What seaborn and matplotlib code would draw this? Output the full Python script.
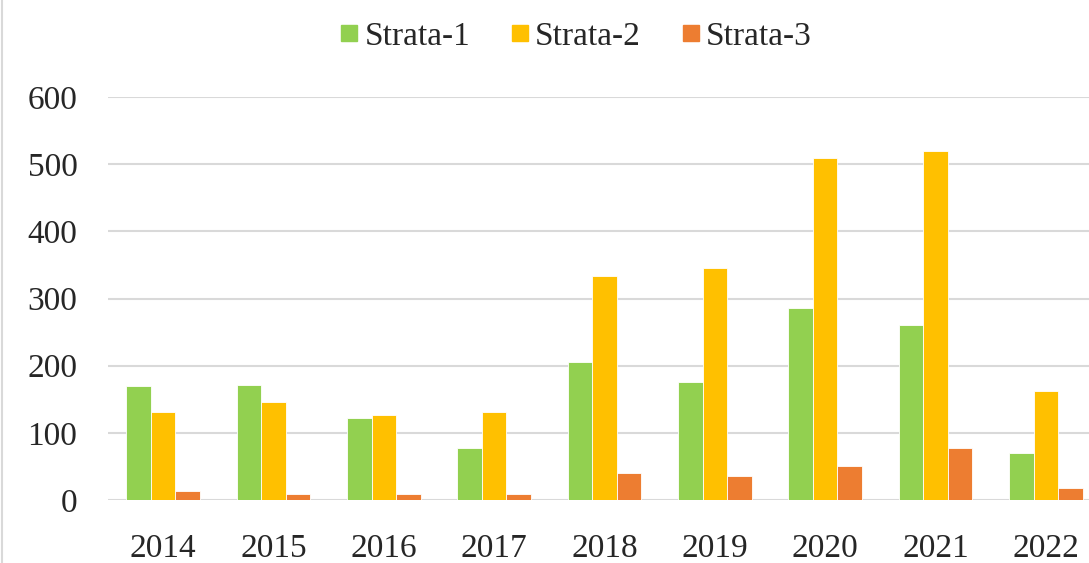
import matplotlib
matplotlib.use("Agg")
import matplotlib.pyplot as plt
import seaborn as sns
import pandas as pd
from matplotlib.lines import Line2D

years = ["2014", "2015", "2016", "2017", "2018", "2019", "2020", "2021", "2022"]
strata_1 = [169, 171, 122, 77, 206, 176, 286, 260, 70]
strata_2 = [131, 146, 127, 131, 333, 345, 509, 519, 162]
strata_3 = [13, 9, 9, 9, 40, 35, 51, 77, 18]
series_names = ["Strata-1", "Strata-2", "Strata-3"]
colors = ["#92D050", "#FFC000", "#ED7D31"]

# long format for seaborn
df = pd.DataFrame({
    "year": years * 3,
    "value": strata_1 + strata_2 + strata_3,
    "series": [s for s in series_names for _ in years],
})

sns.set_theme(style="white")
plt.rcParams['font.family'] = ['Liberation Serif', 'DejaVu Serif']

fig = plt.figure(figsize=(10.89, 5.63), dpi=100)
ax = fig.add_axes([108 / 1089, 1 - 500 / 563, (1101 - 108) / 1089, (500 - 97) / 563])

sns.barplot(data=df, x="year", y="value", hue="series", palette=colors, saturation=1,
            width=0.67, ax=ax, edgecolor="white", linewidth=0.6, legend=False)

ax.set_ylim(0, 600)
ax.set_yticks(range(0, 601, 100))
ax.set_xlabel("")
ax.set_ylabel("")
ax.grid(axis="y", color="#d9d9d9", linewidth=1.5)
ax.set_axisbelow(True)
for sp in ax.spines.values():
    sp.set_visible(False)
ax.tick_params(axis="y", length=0, pad=22, labelsize=24)
ax.tick_params(axis="x", length=0, pad=24, labelsize=24)

handles = [Line2D([0], [0], marker="s", linestyle="", markersize=12,
                  markerfacecolor=c, markeredgecolor=c) for c in colors]
fig.legend(handles, series_names, loc="upper center", bbox_to_anchor=(574 / 1089, 1.015),
           ncol=3, frameon=False, fontsize=24, handletextpad=0.05, columnspacing=1.1,
           handlelength=0.8)

# thin frame line on the left edge
fig.add_artist(Line2D([0.002, 0.002], [0, 1], transform=fig.transFigure,
                      color="#d9d9d9", linewidth=1.5))

fig.savefig("out.png", dpi=100)
